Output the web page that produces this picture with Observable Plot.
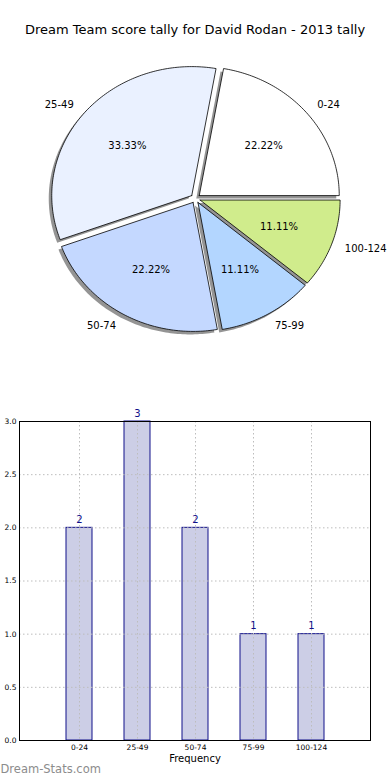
<!DOCTYPE html>
<html>
<head>
<meta charset="utf-8">
<script src="https://cdn.jsdelivr.net/npm/d3@7"></script>
<script src="https://cdn.jsdelivr.net/npm/@observablehq/plot@0.6"></script>
<style>
  body { margin: 0; background: #fff; width: 390px; font-family: "DejaVu Sans", sans-serif; }
  #title { height: 50px; box-sizing: border-box; padding-top: 22px; line-height: 16px; font-size: 13px; text-align: center; color: #000; }
  svg { display: block; }
</style>
</head>
<body>
<div id="title">Dream Team score tally for David Rodan - 2013 tally</div>
<div id="pie"></div>
<div id="bar"></div>
<script>
// ---- data ----
const categories = ["0-24", "25-49", "50-74", "75-99", "100-124"];
const counts = [2, 3, 2, 1, 1];
const sliceColors = ["#ffffff", "#eaf1ff", "#c4d8ff", "#b3d6ff", "#d0ec8c"];
const yTicks = [0, 0.5, 1, 1.5, 2, 2.5, 3];

const total = d3.sum(counts);
const explode = 0.035;

// ---- pie geometry (unit circle, ccw from east, like matplotlib) ----
const slices = [];
const shapePts = [];
let start = 0;
categories.forEach((cat, i) => {
  const sweep = counts[i] / total * 2 * Math.PI;
  const a0 = start, a1 = start + sweep, mid = (a0 + a1) / 2;
  const ox = explode * Math.cos(mid), oy = explode * Math.sin(mid);
  shapePts.push({cat, color: sliceColors[i], x: ox, y: oy});
  const n = Math.max(2, Math.ceil(sweep / (Math.PI / 180)));
  for (let k = 0; k <= n; k++) {
    const a = a0 + sweep * k / n;
    shapePts.push({cat, color: sliceColors[i], x: ox + Math.cos(a), y: oy + Math.sin(a)});
  }
  shapePts.push({cat, color: sliceColors[i], x: ox, y: oy});
  slices.push({
    cat,
    pct: d3.format(".2f")(counts[i] / total * 100) + "%",
    lx: ox + 1.1 * Math.cos(mid), ly: oy + 1.1 * Math.sin(mid),
    px: ox + 0.6 * Math.cos(mid), py: oy + 0.6 * Math.sin(mid),
    right: Math.cos(mid) >= 0
  });
  start = a1;
});

const pieH = 310, cx = 195, cy = 148, rx = 140, ry = 129;
const pie = Plot.plot({
  width: 390, height: pieH,
  margin: 0,
  style: {fontFamily: "DejaVu Sans", fontSize: "10px", background: "white"},
  x: {domain: [-cx / rx, (390 - cx) / rx], axis: null},
  y: {domain: [-(pieH - cy) / ry, cy / ry], axis: null},
  color: {type: "identity"},
  marks: [
    Plot.line(shapePts, {x: "x", y: "y", z: "cat", fill: "#4d4d4d", fillOpacity: 0.6, stroke: "none", dx: -3, dy: 3, curve: "linear"}),
    Plot.line(shapePts, {x: "x", y: "y", z: "cat", fill: "color", stroke: "#000", strokeWidth: 0.8, curve: "linear"}),
    Plot.text(slices.filter(d => d.right), {x: "lx", y: "ly", text: "cat", textAnchor: "start", fill: "#000"}),
    Plot.text(slices.filter(d => !d.right), {x: "lx", y: "ly", text: "cat", textAnchor: "end", fill: "#000"}),
    Plot.text(slices, {x: "px", y: "py", text: "pct", fill: "#000"})
  ]
});
document.getElementById("pie").appendChild(pie);

// ---- bar chart ----
const barData = categories.map((cat, i) => ({cat, count: counts[i]}));
const bar = Plot.plot({
  width: 390, height: 420,
  marginTop: 61, marginBottom: 40, marginLeft: 19, marginRight: 20,
  style: {fontFamily: "DejaVu Sans", fontSize: "7.5px", background: "white", overflow: "visible"},
  x: {domain: categories, paddingInner: 0.556, paddingOuter: 0.778, align: 0.5, label: null, tickSize: 0, tickPadding: 4},
  y: {domain: [0, 3], ticks: yTicks, tickFormat: d3.format(".1f"), label: null, tickSize: 0, tickPadding: 3},
  marks: [
    Plot.barY(barData, {x: "cat", y: "count", fill: "#cccee6", stroke: "#10108a", strokeWidth: 1}),
    Plot.ruleY(yTicks, {stroke: "#bdbdbd", strokeDasharray: "1.5,2.5", strokeWidth: 1}),
    Plot.ruleX(categories, {x: d => d, stroke: "#bdbdbd", strokeDasharray: "1.5,2.5", strokeWidth: 1}),
    Plot.frame({stroke: "#000", strokeWidth: 1}),
    Plot.text(barData, {x: "cat", y: "count", text: d => String(d.count), dy: -8, fill: "#10108a", fontSize: 10}),
    Plot.text(["Frequency"], {frameAnchor: "bottom", dy: 21, fontSize: 10, fill: "#000"}),
    Plot.text(["Dream-Stats.com"], {frameAnchor: "bottom-left", textAnchor: "start", dx: -19, dy: 32, fontSize: 11.5, fill: "#8c8c8c"})
  ]
});
document.getElementById("bar").appendChild(bar);
</script>
</body>
</html>
